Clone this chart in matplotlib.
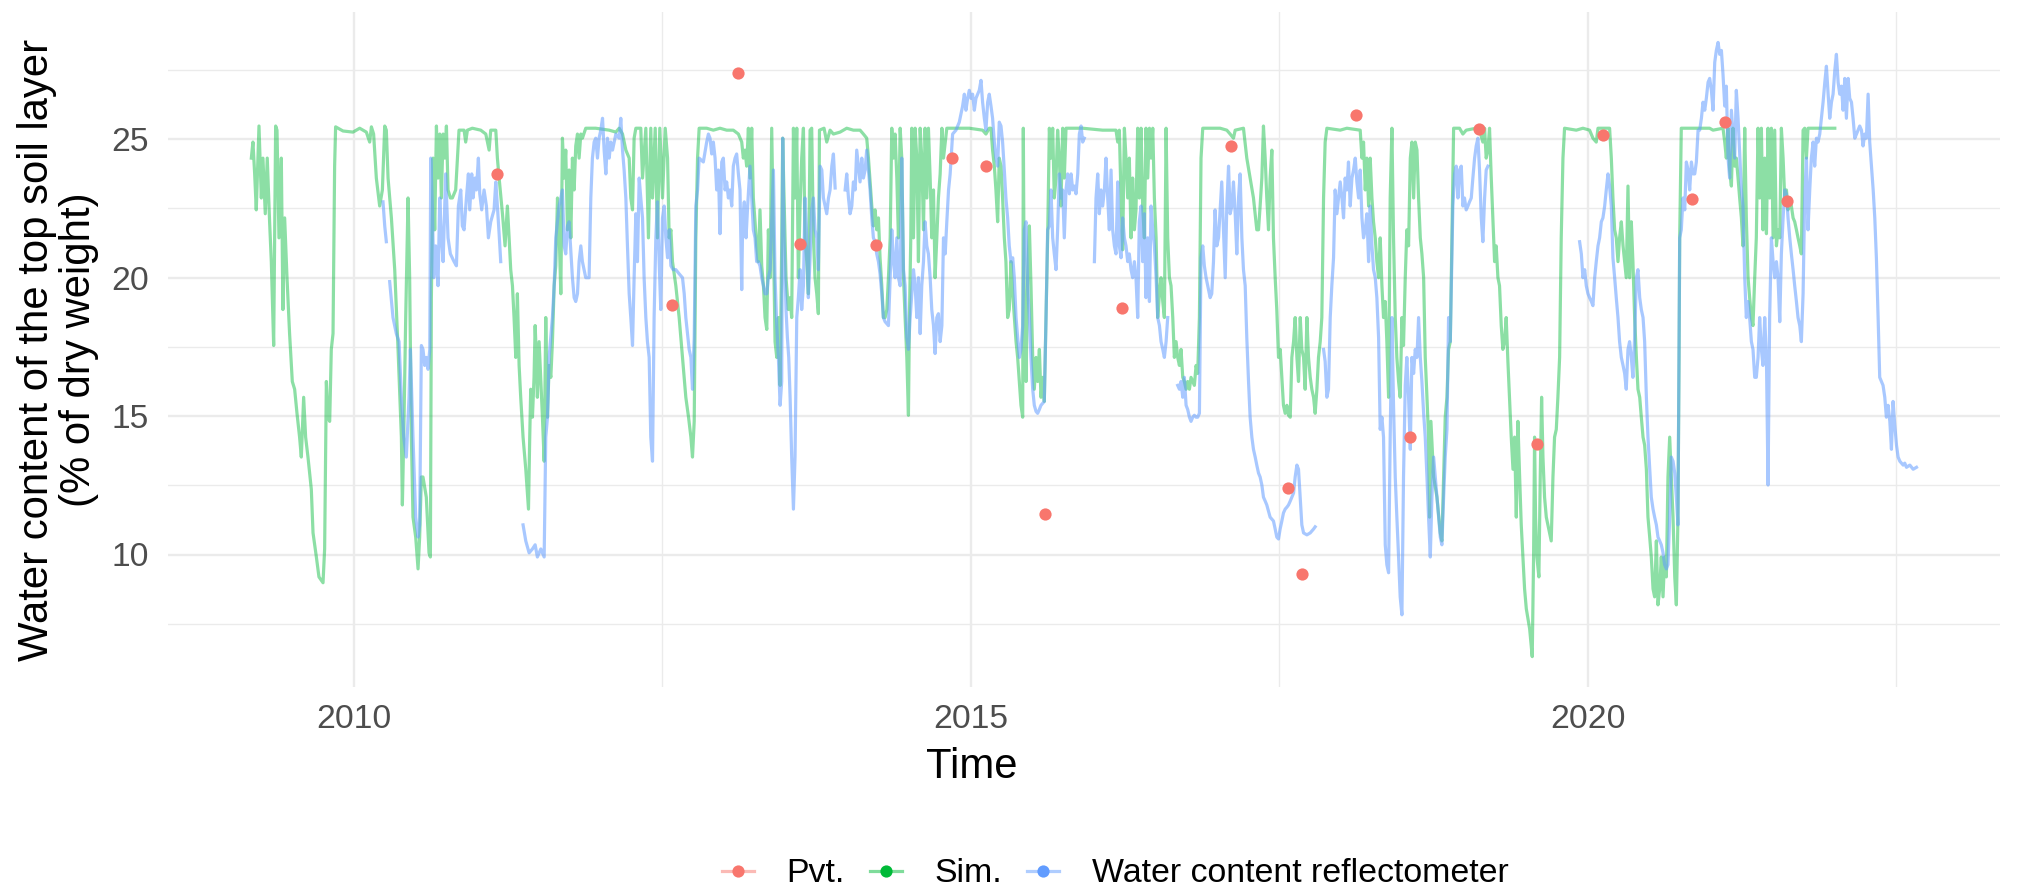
import numpy as np
import matplotlib
matplotlib.use("Agg")
import matplotlib.pyplot as plt
from matplotlib.lines import Line2D

nan = float("nan")

# ---------------- data (decimal year, water content %) ----------------
pvt = [(2011.162, 23.75), (2012.576, 19.02), (2013.109, 27.38), (2013.615, 21.20), (2014.231, 21.17),
       (2014.845, 24.32), (2015.119, 24.03), (2015.600, 11.46), (2016.222, 18.89), (2017.108, 24.76),
       (2017.565, 12.39), (2017.681, 9.29), (2018.119, 25.86), (2018.560, 14.24), (2019.113, 25.39),
       (2019.586, 13.99), (2020.121, 25.14), (2020.843, 22.84), (2021.108, 25.62), (2021.616, 22.77)]

sim = [
(2009.168,24.32),(2009.181,24.90),(2009.195,23.75),(2009.208,22.45),(2009.230,25.48),(2009.249,22.88),(2009.262,24.32),(2009.281,22.31),(2009.297,24.32),(2009.316,22.02),
(2009.330,20.58),(2009.349,17.55),(2009.365,25.48),(2009.376,25.33),(2009.392,21.44),(2009.411,24.32),(2009.424,18.85),(2009.438,22.16),(2009.457,20.00),(2009.478,17.98),
(2009.500,16.25),(2009.519,15.97),(2009.538,15.10),(2009.559,14.24),(2009.573,13.52),(2009.592,15.68),(2009.608,14.24),(2009.627,13.52),(2009.654,12.36),(2009.668,10.78),
(2009.695,9.91),(2009.716,9.19),(2009.749,8.98),(2009.762,10.20),(2009.776,16.25),(2009.789,14.96),(2009.803,14.81),(2009.816,17.41),(2009.830,17.98),(2009.843,24.03),
(2009.851,25.45),(2009.911,25.30),(2009.992,25.26),(2010.046,25.40),(2010.100,25.26),(2010.127,24.90),(2010.141,25.45),(2010.159,25.19),(2010.181,23.60),(2010.208,22.59),
(2010.230,23.17),(2010.249,25.48),(2010.262,25.33),(2010.276,23.60),(2010.303,22.16),(2010.330,20.29),(2010.357,17.41),(2010.384,14.24),(2010.392,11.79),(2010.403,14.24),
(2010.419,18.56),(2010.438,22.88),(2010.451,20.00),(2010.465,14.24),(2010.478,11.35),(2010.500,10.63),(2010.519,9.48),(2010.532,10.63),(2010.546,12.80),(2010.559,12.80),
(2010.586,12.07),(2010.608,10.06),(2010.619,9.91),(2010.627,19.28),(2010.641,24.32),(2010.654,21.73),(2010.668,25.48),(2010.681,23.60),(2010.695,25.19),(2010.708,22.88),
(2010.722,25.19),(2010.735,24.32),(2010.749,25.48),(2010.762,23.17),(2010.781,22.88),(2010.797,22.88),(2010.824,23.17),(2010.851,25.33),(2010.892,25.33),(2010.905,24.90),
(2010.919,25.33),(2010.959,25.40),(2011.027,25.33),(2011.068,25.19),(2011.095,24.61),(2011.108,25.33),(2011.149,25.33),(2011.162,24.32),(2011.176,23.60),(2011.203,22.31),
(2011.224,21.15),(2011.243,22.59),(2011.257,21.44),(2011.270,20.29),(2011.284,19.71),(2011.297,18.56),(2011.311,17.12),(2011.324,19.42),(2011.338,16.83),(2011.351,15.68),
(2011.370,14.24),(2011.392,13.08),(2011.414,11.64),(2011.424,14.24),(2011.432,15.97),(2011.446,14.96),(2011.459,16.40),(2011.468,18.27),(2011.478,17.12),(2011.486,15.68),
(2011.500,17.69),(2011.514,16.25),(2011.527,14.96),(2011.541,13.37),(2011.554,18.56),(2011.568,14.96),(2011.581,16.83),(2011.595,16.40),(2011.608,17.69),(2011.622,19.71),
(2011.635,20.43),(2011.649,22.88),(2011.662,21.73),(2011.676,19.42),(2011.689,25.04),(2011.703,23.60),(2011.716,24.61),(2011.730,21.73),(2011.743,23.89),(2011.757,21.44),
(2011.770,24.32),(2011.784,23.17),(2011.797,24.76),(2011.811,25.19),(2011.824,24.32),(2011.838,25.19),(2011.851,25.04),(2011.878,25.40),(2011.959,25.40),(2012.068,25.33),
(2012.122,25.26),(2012.149,25.40),(2012.176,25.19),(2012.203,24.61),(2012.230,24.32),(2012.243,22.88),(2012.257,22.45),(2012.270,25.04),(2012.284,25.40),(2012.324,25.40),
(2012.338,23.60),(2012.365,25.40),(2012.386,21.44),(2012.405,25.40),(2012.419,22.88),(2012.441,25.40),(2012.459,21.44),(2012.478,25.40),(2012.500,22.88),(2012.522,25.40),
(2012.541,24.32),(2012.554,21.44),(2012.568,21.73),(2012.581,20.58),(2012.608,19.71),(2012.635,18.56),(2012.662,17.12),(2012.689,15.68),(2012.711,14.96),(2012.730,14.24),
(2012.743,13.52),(2012.757,14.81),(2012.770,21.44),(2012.784,24.32),(2012.797,25.40),(2012.858,25.40),(2012.912,25.33),(2012.966,25.40),(2013.020,25.33),(2013.074,25.33),
(2013.115,25.19),(2013.142,24.90),(2013.155,24.32),(2013.169,24.61),(2013.182,24.03),(2013.196,25.40),(2013.209,23.60),(2013.223,25.40),(2013.236,22.88),(2013.250,22.02),
(2013.263,21.15),(2013.277,20.58),(2013.290,22.45),(2013.304,20.43),(2013.318,19.71),(2013.331,18.56),(2013.345,18.13),(2013.358,21.73),(2013.372,20.00),(2013.385,25.40),
(2013.399,21.44),(2013.412,17.69),(2013.426,17.12),(2013.439,18.56),(2013.453,16.11),(2013.466,21.15),(2013.474,25.04),(2013.485,22.88),(2013.501,20.00),(2013.520,18.85),
(2013.534,19.28),(2013.547,18.56),(2013.561,25.40),(2013.574,22.88),(2013.588,25.40),(2013.601,20.00),(2013.615,22.59),(2013.628,24.32),(2013.642,25.40),(2013.655,21.44),
(2013.669,20.58),(2013.682,19.42),(2013.696,25.33),(2013.709,25.40),(2013.723,21.44),(2013.736,20.00),(2013.750,19.42),(2013.763,18.70),(2013.772,25.33),(2013.809,25.40),
(2013.831,24.90),(2013.858,25.33),(2013.885,25.19),(2013.939,25.26),(2013.993,25.40),(2014.047,25.33),(2014.101,25.33),(2014.128,25.19),(2014.155,25.04),(2014.169,24.32),
(2014.182,23.46),(2014.196,22.59),(2014.209,21.87),(2014.223,22.45),(2014.236,21.73),(2014.250,22.16),(2014.263,20.72),(2014.277,19.71),(2014.290,18.56),(2014.304,18.56),
(2014.318,18.85),(2014.331,20.00),(2014.345,21.44),(2014.358,25.40),(2014.372,24.32),(2014.385,25.19),(2014.399,23.60),(2014.412,21.44),(2014.426,25.40),(2014.439,24.32),
(2014.453,20.00),(2014.466,18.56),(2014.480,17.12),(2014.493,15.03),(2014.501,18.56),(2014.512,21.44),(2014.520,25.40),(2014.534,21.44),(2014.547,25.40),(2014.561,24.32),
(2014.574,20.58),(2014.588,25.40),(2014.601,24.32),(2014.615,21.73),(2014.628,25.40),(2014.642,22.88),(2014.655,25.40),(2014.669,23.60),(2014.682,21.44),(2014.696,23.17),
(2014.709,20.00),(2014.723,21.44),(2014.736,22.88),(2014.750,23.75),(2014.764,25.40),(2014.777,24.32),(2014.804,25.40),(2014.878,25.40),(2014.986,25.40),(2015.094,25.33),
(2015.121,25.19),(2015.148,25.40),(2015.162,25.40),(2015.175,24.61),(2015.189,24.03),(2015.202,23.17),(2015.216,22.02),(2015.229,24.32),(2015.243,24.03),(2015.256,22.88),
(2015.270,21.44),(2015.283,20.58),(2015.297,18.56),(2015.310,18.85),(2015.324,20.58),(2015.338,19.42),(2015.351,18.56),(2015.365,17.69),(2015.378,17.12),(2015.392,16.25),
(2015.405,15.39),(2015.419,14.96),(2015.424,25.40),(2015.432,18.56),(2015.446,16.25),(2015.459,20.00),(2015.473,21.87),(2015.486,19.71),(2015.500,17.12),(2015.513,15.97),
(2015.527,17.12),(2015.540,16.25),(2015.554,17.41),(2015.567,15.68),(2015.581,16.40),(2015.594,15.53),(2015.608,18.56),(2015.621,21.44),(2015.635,25.40),(2015.648,24.32),
(2015.662,25.40),(2015.675,22.88),(2015.689,23.60),(2015.702,25.33),(2015.716,24.32),(2015.729,22.59),(2015.743,25.40),(2015.756,23.60),(2015.770,25.40),(2015.905,25.40),
(2016.067,25.33),(2016.175,25.33),(2016.189,24.90),(2016.202,25.33),(2016.216,22.88),(2016.229,21.01),(2016.243,25.40),(2016.256,24.32),(2016.270,22.88),(2016.283,24.32),
(2016.297,21.44),(2016.310,23.60),(2016.324,21.73),(2016.337,22.45),(2016.351,25.40),(2016.364,22.88),(2016.378,25.40),(2016.391,22.59),(2016.405,21.44),(2016.418,25.40),
(2016.432,23.60),(2016.446,25.40),(2016.459,24.32),(2016.473,25.40),(2016.486,22.88),(2016.500,21.44),(2016.513,18.56),(2016.527,19.42),(2016.540,20.00),(2016.554,19.14),
(2016.567,18.56),(2016.581,25.40),(2016.594,21.44),(2016.608,20.00),(2016.621,19.71),(2016.635,18.56),(2016.648,17.12),(2016.662,17.69),(2016.675,17.12),(2016.689,16.83),
(2016.702,17.41),(2016.716,16.40),(2016.729,16.25),(2016.743,15.97),(2016.756,16.25),(2016.770,15.97),(2016.783,16.40),(2016.797,16.25),(2016.810,16.11),(2016.824,16.83),
(2016.837,16.54),(2016.851,18.56),(2016.864,24.32),(2016.878,25.40),(2016.911,25.40),(2017.019,25.40),(2017.073,25.33),(2017.100,25.19),(2017.127,25.04),(2017.141,25.33),
(2017.208,25.40),(2017.235,24.32),(2017.262,23.60),(2017.289,22.88),(2017.316,21.73),(2017.330,21.73),(2017.343,22.59),(2017.357,23.60),(2017.370,25.48),(2017.384,24.32),
(2017.397,22.88),(2017.411,21.73),(2017.424,23.60),(2017.438,24.61),(2017.451,21.44),(2017.465,20.00),(2017.478,18.85),(2017.492,17.12),(2017.506,17.41),(2017.519,16.40),
(2017.532,15.39),(2017.546,15.10),(2017.560,15.39),(2017.573,15.03),(2017.587,14.96),(2017.600,17.12),(2017.614,17.69),(2017.627,18.56),(2017.641,17.12),(2017.654,16.25),
(2017.668,18.56),(2017.681,17.41),(2017.695,17.12),(2017.708,15.97),(2017.722,18.56),(2017.735,17.12),(2017.749,16.40),(2017.762,15.97),(2017.776,15.68),(2017.789,15.10),
(2017.803,15.97),(2017.816,17.12),(2017.830,17.69),(2017.843,18.56),(2017.857,22.88),(2017.870,24.90),(2017.884,25.40),(2017.992,25.33),(2018.046,25.40),(2018.154,25.33),
(2018.168,24.32),(2018.181,24.90),(2018.195,23.17),(2018.208,24.32),(2018.222,22.59),(2018.235,24.32),(2018.249,22.88),(2018.262,22.02),(2018.276,21.44),(2018.289,20.58),
(2018.303,20.00),(2018.316,21.44),(2018.330,19.71),(2018.343,18.56),(2018.357,19.14),(2018.370,17.69),(2018.384,15.68),(2018.397,22.88),(2018.411,25.40),(2018.424,21.44),
(2018.438,18.56),(2018.451,17.12),(2018.465,16.25),(2018.478,15.68),(2018.492,18.56),(2018.505,17.55),(2018.519,20.00),(2018.532,21.73),(2018.546,21.15),(2018.560,24.32),
(2018.573,24.90),(2018.587,22.88),(2018.600,24.90),(2018.614,24.61),(2018.627,22.88),(2018.641,21.44),(2018.654,20.86),(2018.668,20.00),(2018.681,17.12),(2018.695,15.68),
(2018.708,14.24),(2018.716,11.35),(2018.727,14.81),(2018.749,12.80),(2018.776,12.07),(2018.803,10.78),(2018.816,10.49),(2018.830,12.80),(2018.843,14.96),(2018.857,15.68),
(2018.870,17.41),(2018.884,17.69),(2018.897,21.44),(2018.911,25.40),(2018.959,25.40),(2018.986,25.19),(2019.013,25.33),(2019.094,25.40),(2019.121,25.33),(2019.148,24.90),
(2019.162,25.40),(2019.175,24.32),(2019.189,24.61),(2019.202,25.40),(2019.216,23.60),(2019.229,22.16),(2019.243,20.58),(2019.256,21.15),(2019.270,20.00),(2019.283,19.71),
(2019.297,18.27),(2019.310,17.41),(2019.324,17.69),(2019.337,18.56),(2019.351,16.97),(2019.364,15.68),(2019.378,14.24),(2019.392,13.08),(2019.405,14.24),(2019.419,11.35),
(2019.432,14.81),(2019.446,12.80),(2019.459,11.07),(2019.473,9.91),(2019.486,8.76),(2019.500,8.04),(2019.527,7.32),(2019.548,6.31),(2019.559,9.91),(2019.567,14.24),
(2019.575,11.35),(2019.586,9.91),(2019.602,9.19),(2019.613,12.80),(2019.624,15.68),(2019.635,13.52),(2019.648,12.07),(2019.662,11.35),(2019.689,10.78),(2019.702,10.49),
(2019.716,12.80),(2019.729,14.24),(2019.743,14.52),(2019.756,15.68),(2019.770,17.12),(2019.783,21.44),(2019.797,24.32),(2019.810,25.40),(2019.905,25.33),(2019.959,25.40),
(2020.013,25.33),(2020.040,25.04),(2020.067,24.90),(2020.081,25.40),(2020.175,25.40),(2020.189,24.32),(2020.202,22.88),(2020.216,21.73),(2020.229,21.44),(2020.243,20.58),
(2020.256,21.44),(2020.270,22.02),(2020.284,21.15),(2020.297,20.58),(2020.310,20.00),(2020.324,23.31),(2020.337,20.00),(2020.351,22.02),(2020.364,20.58),(2020.378,18.56),
(2020.392,17.12),(2020.405,15.97),(2020.419,15.68),(2020.432,14.96),(2020.446,14.24),(2020.459,13.95),(2020.473,13.08),(2020.486,11.35),(2020.500,10.63),(2020.513,9.91),
(2020.527,8.76),(2020.540,8.47),(2020.554,10.49),(2020.567,8.18),(2020.581,8.76),(2020.594,9.91),(2020.608,8.47),(2020.621,9.91),(2020.635,9.19),(2020.648,12.80),
(2020.662,14.24),(2020.675,12.80),(2020.689,11.35),(2020.703,9.19),(2020.716,8.18),(2020.729,11.35),(2020.738,17.12),(2020.743,21.44),(2020.756,25.40),(2020.986,25.40),
(2021.013,25.33),(2021.094,25.40),(2021.108,24.90),(2021.121,24.32),(2021.135,25.40),(2021.148,23.89),(2021.162,23.31),(2021.175,25.40),(2021.189,24.03),(2021.202,24.32),
(2021.216,23.60),(2021.229,22.88),(2021.243,22.16),(2021.256,21.15),(2021.270,25.40),(2021.283,22.16),(2021.297,20.00),(2021.310,19.28),(2021.324,18.56),(2021.337,18.27),
(2021.351,20.00),(2021.364,21.44),(2021.378,25.40),(2021.391,22.88),(2021.405,25.40),(2021.418,21.73),(2021.432,24.32),(2021.446,21.59),(2021.459,25.40),(2021.472,22.88),
(2021.486,25.40),(2021.500,21.44),(2021.513,25.33),(2021.527,21.15),(2021.540,21.73),(2021.554,21.44),(2021.567,25.40),(2021.581,24.32),(2021.594,22.88),(2021.608,23.17),
(2021.621,22.45),(2021.635,22.88),(2021.648,22.59),(2021.662,22.16),(2021.675,22.02),(2021.689,21.73),(2021.702,21.44),(2021.716,21.15),(2021.729,20.86),(2021.743,25.33),
(2021.756,25.40),(2021.770,24.32),(2021.783,25.40),(2021.878,25.40),(2022.000,25.40)]

wcr = [
(2010.235,22.74),(2010.249,21.87),(2010.262,21.30),(2010.275,nan),
(2010.289,19.86),(2010.316,18.56),(2010.343,17.98),(2010.365,17.69),(2010.384,15.68),(2010.403,14.24),(2010.424,13.52),(2010.446,15.68),(2010.457,17.41),(2010.478,14.24),
(2010.500,11.35),(2010.519,10.63),(2010.532,11.07),(2010.546,17.55),(2010.559,17.41),(2010.573,16.83),(2010.586,17.12),(2010.600,16.69),(2010.614,17.41),(2010.622,24.32),
(2010.635,22.59),(2010.646,20.00),(2010.662,21.15),(2010.681,19.71),(2010.695,22.88),(2010.708,21.44),(2010.722,20.58),(2010.743,23.75),(2010.762,21.44),(2010.781,20.86),
(2010.811,20.58),(2010.830,20.43),(2010.846,22.59),(2010.865,23.17),(2010.878,21.87),(2010.892,21.73),(2010.911,22.88),(2010.927,23.75),(2010.938,22.45),(2010.954,23.75),
(2010.965,22.88),(2010.981,23.60),(2010.992,23.17),(2011.008,24.32),(2011.019,23.03),(2011.035,22.45),(2011.054,23.17),(2011.073,22.59),(2011.089,21.44),(2011.108,22.02),
(2011.135,22.45),(2011.149,23.46),(2011.162,22.59),(2011.176,21.59),(2011.189,20.58),(2011.280,nan),
(2011.370,11.07),(2011.392,10.49),(2011.419,10.06),(2011.446,10.20),(2011.468,10.35),(2011.486,9.91),(2011.514,10.20),(2011.541,9.91),(2011.554,14.24),(2011.568,14.96),
(2011.581,17.12),(2011.608,18.56),(2011.622,19.71),(2011.635,21.44),(2011.662,22.59),(2011.676,22.88),(2011.689,23.17),(2011.703,21.15),(2011.716,20.86),(2011.730,21.87),
(2011.743,22.02),(2011.770,20.00),(2011.784,19.28),(2011.797,19.14),(2011.811,19.42),(2011.824,20.58),(2011.838,21.15),(2011.851,20.58),(2011.878,20.00),(2011.905,20.00),
(2011.919,22.88),(2011.932,24.32),(2011.946,24.90),(2011.959,25.04),(2011.973,24.32),(2011.986,25.04),(2012.000,25.33),(2012.014,25.76),(2012.027,24.61),(2012.041,23.75),
(2012.054,25.04),(2012.068,24.32),(2012.081,24.90),(2012.095,24.61),(2012.122,25.19),(2012.149,25.04),(2012.162,25.76),(2012.176,24.61),(2012.189,23.89),(2012.203,22.88),
(2012.216,21.15),(2012.230,19.42),(2012.243,18.56),(2012.257,17.55),(2012.270,20.00),(2012.284,22.31),(2012.297,20.58),(2012.311,23.60),(2012.324,22.88),(2012.338,22.16),
(2012.351,20.00),(2012.365,18.56),(2012.378,17.69),(2012.392,17.12),(2012.405,14.24),(2012.419,13.37),(2012.432,18.56),(2012.446,21.44),(2012.459,22.74),(2012.473,20.58),
(2012.486,18.85),(2012.500,22.16),(2012.514,22.59),(2012.527,21.44),(2012.541,20.72),(2012.554,21.73),(2012.568,20.43),(2012.586,20.29),(2012.608,20.29),(2012.635,20.14),
(2012.662,20.00),(2012.676,19.42),(2012.689,18.56),(2012.703,17.98),(2012.716,17.41),(2012.730,17.12),(2012.743,15.97),(2012.757,17.84),(2012.770,22.59),(2012.784,23.17),
(2012.797,24.32),(2012.831,24.18),(2012.858,24.90),(2012.872,25.19),(2012.885,25.04),(2012.899,24.47),(2012.912,24.90),(2012.926,24.32),(2012.939,23.17),(2012.953,23.89),
(2012.966,21.59),(2012.980,24.18),(2012.993,24.32),(2013.007,23.17),(2013.020,23.46),(2013.034,22.88),(2013.047,23.17),(2013.061,22.59),(2013.074,24.03),(2013.088,24.32),
(2013.101,24.47),(2013.115,23.75),(2013.128,23.17),(2013.142,19.57),(2013.150,22.16),(2013.163,22.74),(2013.177,21.44),(2013.190,22.59),(2013.209,24.03),(2013.223,22.88),
(2013.236,21.73),(2013.250,21.44),(2013.263,20.58),(2013.277,20.58),(2013.290,20.43),(2013.304,20.00),(2013.318,19.71),(2013.331,19.42),(2013.345,19.42),(2013.358,20.00),
(2013.372,20.29),(2013.385,22.02),(2013.399,23.89),(2013.412,20.00),(2013.426,18.27),(2013.439,17.12),(2013.453,15.39),(2013.466,16.25),(2013.474,25.04),(2013.485,21.44),
(2013.501,18.85),(2013.512,17.84),(2013.523,17.12),(2013.534,15.68),(2013.547,13.52),(2013.561,11.64),(2013.574,13.52),(2013.588,18.56),(2013.601,19.28),(2013.615,20.29),
(2013.628,18.85),(2013.642,19.71),(2013.655,22.88),(2013.669,21.44),(2013.682,19.28),(2013.696,20.72),(2013.709,22.45),(2013.723,22.88),(2013.736,21.73),(2013.750,21.44),
(2013.763,20.29),(2013.777,24.03),(2013.791,23.89),(2013.804,22.88),(2013.818,22.59),(2013.831,22.31),(2013.845,22.88),(2013.858,23.17),(2013.872,24.03),(2013.885,24.47),
(2013.899,23.24),(2013.940,nan),
(2013.980,23.17),(2013.993,23.75),(2014.007,22.88),(2014.020,22.31),(2014.034,22.59),(2014.047,23.46),(2014.061,23.17),(2014.074,24.61),(2014.088,24.03),(2014.101,23.46),
(2014.115,24.32),(2014.128,23.60),(2014.142,23.89),(2014.155,24.61),(2014.169,23.89),(2014.182,23.17),(2014.196,22.16),(2014.209,21.44),(2014.223,21.30),(2014.236,20.86),
(2014.250,20.58),(2014.263,20.14),(2014.277,19.42),(2014.290,18.56),(2014.304,18.41),(2014.318,18.34),(2014.331,18.27),(2014.345,20.00),(2014.358,21.73),(2014.372,20.58),
(2014.385,20.00),(2014.399,21.44),(2014.412,20.00),(2014.426,19.71),(2014.439,24.32),(2014.453,20.29),(2014.466,19.71),(2014.480,17.84),(2014.493,17.41),(2014.507,18.56),
(2014.520,19.42),(2014.534,20.29),(2014.547,19.71),(2014.561,18.56),(2014.574,20.00),(2014.588,17.98),(2014.601,19.71),(2014.615,20.58),(2014.628,22.02),(2014.642,21.15),
(2014.655,20.86),(2014.669,20.00),(2014.682,18.85),(2014.696,18.27),(2014.709,17.26),(2014.723,18.56),(2014.736,18.70),(2014.750,17.69),(2014.764,18.27),(2014.777,21.44),
(2014.791,20.86),(2014.804,22.02),(2014.818,23.17),(2014.831,23.75),(2014.851,25.19),(2014.878,25.33),(2014.905,25.62),(2014.932,26.20),(2014.946,26.63),(2014.959,26.05),
(2014.973,26.48),(2014.986,26.77),(2015.000,26.48),(2015.013,26.63),(2015.027,26.05),(2015.040,26.48),(2015.054,26.63),(2015.067,26.77),(2015.081,27.13),(2015.094,26.34),
(2015.108,25.76),(2015.121,25.33),(2015.135,26.34),(2015.148,26.63),(2015.162,26.20),(2015.175,25.76),(2015.189,24.90),(2015.202,24.32),(2015.216,24.03),(2015.229,25.62),
(2015.243,25.48),(2015.256,24.90),(2015.270,23.89),(2015.283,22.88),(2015.297,22.16),(2015.310,21.15),(2015.324,20.58),(2015.338,20.72),(2015.351,20.00),(2015.365,18.56),
(2015.378,17.84),(2015.392,17.12),(2015.405,17.41),(2015.419,18.27),(2015.432,21.73),(2015.446,22.02),(2015.459,19.71),(2015.473,18.56),(2015.486,17.12),(2015.500,15.97),
(2015.513,15.39),(2015.527,15.17),(2015.540,15.10),(2015.554,15.24),(2015.567,15.39),(2015.581,15.46),(2015.594,15.53),(2015.608,18.56),(2015.621,21.73),(2015.635,21.87),
(2015.648,23.17),(2015.662,21.44),(2015.675,20.86),(2015.689,20.29),(2015.702,21.73),(2015.716,23.75),(2015.729,22.88),(2015.743,23.17),(2015.756,21.44),(2015.770,23.17),
(2015.783,23.75),(2015.797,23.03),(2015.811,23.75),(2015.824,23.17),(2015.838,23.31),(2015.851,23.03),(2015.865,23.75),(2015.878,25.19),(2015.892,25.48),(2015.905,24.90),
(2015.918,25.04),(2015.960,nan),
(2016.000,20.58),(2016.013,22.88),(2016.027,23.75),(2016.040,22.31),(2016.054,23.17),(2016.067,22.59),(2016.081,23.17),(2016.094,24.32),(2016.108,22.88),(2016.121,21.73),
(2016.135,23.89),(2016.148,21.73),(2016.162,21.15),(2016.175,20.86),(2016.189,23.46),(2016.202,21.15),(2016.216,20.72),(2016.229,22.16),(2016.243,21.44),(2016.256,21.15),
(2016.270,20.58),(2016.283,20.86),(2016.297,20.29),(2016.310,20.00),(2016.324,20.58),(2016.337,20.00),(2016.351,18.56),(2016.364,22.02),(2016.378,22.59),(2016.391,20.58),
(2016.405,22.31),(2016.418,19.28),(2016.432,21.44),(2016.446,19.14),(2016.459,22.59),(2016.473,21.73),(2016.486,21.15),(2016.500,20.00),(2016.513,18.56),(2016.527,18.27),
(2016.540,17.69),(2016.554,17.41),(2016.567,17.12),(2016.581,17.69),(2016.594,18.56),(2016.635,nan),
(2016.675,16.11),(2016.689,15.97),(2016.702,16.25),(2016.716,15.68),(2016.729,16.40),(2016.743,15.39),(2016.756,15.24),(2016.770,14.96),(2016.783,14.81),(2016.797,14.96),
(2016.810,15.03),(2016.824,14.96),(2016.837,14.96),(2016.851,15.10),(2016.864,20.72),(2016.878,21.15),(2016.891,20.43),(2016.905,20.00),(2016.932,19.42),(2016.938,19.28),
(2016.951,19.42),(2016.965,20.58),(2016.978,22.45),(2016.992,21.15),(2017.006,21.44),(2017.019,22.45),(2017.032,23.46),(2017.046,21.73),(2017.060,20.00),(2017.073,22.59),
(2017.087,24.03),(2017.100,22.31),(2017.114,22.59),(2017.127,23.46),(2017.141,22.31),(2017.154,20.86),(2017.168,22.88),(2017.181,23.75),(2017.195,21.44),(2017.208,20.29),
(2017.222,19.71),(2017.235,17.84),(2017.249,16.25),(2017.262,14.96),(2017.276,14.24),(2017.289,13.80),(2017.303,13.52),(2017.316,13.23),(2017.330,12.94),(2017.343,12.80),
(2017.357,12.51),(2017.370,12.07),(2017.384,11.93),(2017.397,11.79),(2017.424,11.35),(2017.451,11.21),(2017.465,10.92),(2017.478,10.63),(2017.492,10.56),(2017.505,10.92),
(2017.519,11.21),(2017.532,11.50),(2017.546,11.64),(2017.560,11.71),(2017.573,11.79),(2017.587,11.93),(2017.600,12.07),(2017.614,12.22),(2017.627,12.80),(2017.641,13.23),
(2017.654,13.08),(2017.668,12.07),(2017.681,11.07),(2017.695,10.78),(2017.722,10.71),(2017.749,10.78),(2017.776,10.92),(2017.789,11.00),(2017.820,nan),
(2017.857,17.41),(2017.870,16.97),(2017.884,15.68),(2017.897,15.97),(2017.911,18.56),(2017.924,19.71),(2017.938,20.72),(2017.951,23.17),(2017.965,22.31),(2017.978,22.88),
(2017.992,23.46),(2018.006,22.88),(2018.019,22.16),(2018.032,23.60),(2018.046,23.17),(2018.059,24.18),(2018.073,22.59),(2018.087,23.60),(2018.100,23.89),(2018.114,24.32),
(2018.127,23.46),(2018.141,22.88),(2018.154,23.89),(2018.168,22.16),(2018.181,21.44),(2018.195,21.73),(2018.208,22.31),(2018.222,20.58),(2018.235,22.59),(2018.249,21.15),
(2018.262,20.29),(2018.276,20.00),(2018.289,19.28),(2018.303,17.84),(2018.316,14.52),(2018.330,14.96),(2018.343,14.24),(2018.357,10.35),(2018.370,9.63),(2018.384,9.34),
(2018.397,14.24),(2018.411,18.56),(2018.424,15.39),(2018.438,12.80),(2018.451,11.35),(2018.465,9.91),(2018.478,8.47),(2018.492,7.82),(2018.505,12.80),(2018.519,16.11),
(2018.532,17.12),(2018.546,15.68),(2018.560,13.80),(2018.573,17.12),(2018.587,16.54),(2018.600,17.41),(2018.614,17.12),(2018.627,18.56),(2018.641,17.12),(2018.654,16.25),
(2018.668,15.10),(2018.681,14.24),(2018.695,12.80),(2018.708,11.35),(2018.722,9.91),(2018.735,12.07),(2018.749,13.52),(2018.762,12.80),(2018.776,12.07),(2018.803,10.63),
(2018.816,10.35),(2018.830,12.07),(2018.843,13.52),(2018.857,14.52),(2018.870,18.56),(2018.884,17.69),(2018.905,22.59),(2018.919,23.75),(2018.932,24.03),(2018.946,22.88),
(2018.959,23.89),(2018.973,24.03),(2018.986,22.59),(2018.999,22.88),(2019.013,22.45),(2019.027,22.59),(2019.040,22.74),(2019.054,22.88),(2019.067,23.60),(2019.081,24.32),
(2019.094,24.76),(2019.108,25.04),(2019.121,23.89),(2019.135,22.16),(2019.148,21.30),(2019.162,22.88),(2019.175,23.89),(2019.189,24.03),(2019.500,nan),
(2019.932,21.30),(2019.946,20.86),(2019.959,20.00),(2019.973,20.29),(2019.986,19.71),(2020.000,19.42),(2020.013,19.28),(2020.027,19.14),(2020.040,18.99),(2020.054,20.00),
(2020.067,20.58),(2020.081,21.15),(2020.094,21.44),(2020.108,22.02),(2020.121,22.16),(2020.135,22.59),(2020.148,23.17),(2020.162,23.75),(2020.175,23.31),(2020.189,22.59),
(2020.202,20.72),(2020.216,20.00),(2020.229,19.28),(2020.243,18.56),(2020.256,17.69),(2020.270,17.12),(2020.284,16.83),(2020.297,16.54),(2020.310,15.97),(2020.324,17.41),
(2020.337,17.69),(2020.351,17.12),(2020.364,16.40),(2020.378,17.84),(2020.392,20.00),(2020.405,20.29),(2020.419,19.28),(2020.432,18.85),(2020.446,18.56),(2020.459,17.69),
(2020.473,15.68),(2020.486,14.24),(2020.500,13.08),(2020.513,12.07),(2020.527,11.64),(2020.540,11.35),(2020.554,11.07),(2020.567,10.63),(2020.581,10.49),(2020.594,10.35),
(2020.608,10.06),(2020.621,9.63),(2020.635,9.48),(2020.648,9.63),(2020.662,11.35),(2020.675,13.52),(2020.689,13.37),(2020.703,12.94),(2020.716,12.07),(2020.729,11.07),
(2020.743,21.44),(2020.756,21.73),(2020.770,22.88),(2020.784,22.45),(2020.797,24.18),(2020.811,23.89),(2020.824,23.17),(2020.838,24.18),(2020.851,23.75),(2020.865,23.75),
(2020.878,24.18),(2020.892,25.33),(2020.905,25.33),(2020.919,25.76),(2020.932,26.34),(2020.946,26.05),(2020.959,26.48),(2020.973,27.06),(2020.986,27.20),(2021.000,26.77),
(2021.013,26.05),(2021.027,27.78),(2021.040,28.21),(2021.054,28.50),(2021.067,28.07),(2021.081,28.21),(2021.094,27.35),(2021.108,26.20),(2021.121,26.92),(2021.135,24.32),
(2021.148,23.60),(2021.162,26.05),(2021.175,25.19),(2021.189,24.32),(2021.202,26.77),(2021.216,25.76),(2021.229,24.47),(2021.243,23.17),(2021.256,22.59),(2021.270,20.00),
(2021.283,18.56),(2021.297,19.14),(2021.310,18.56),(2021.324,17.69),(2021.337,17.41),(2021.351,16.40),(2021.364,16.40),(2021.378,17.12),(2021.391,18.56),(2021.405,17.41),
(2021.418,16.83),(2021.432,18.56),(2021.446,17.12),(2021.459,12.51),(2021.472,18.56),(2021.486,21.44),(2021.500,20.58),(2021.513,20.00),(2021.527,20.58),(2021.540,20.00),
(2021.554,18.41),(2021.567,20.86),(2021.581,22.16),(2021.594,23.17),(2021.608,23.03),(2021.621,22.16),(2021.635,21.44),(2021.648,20.86),(2021.662,20.29),(2021.675,19.71),
(2021.689,19.14),(2021.702,18.56),(2021.716,18.27),(2021.729,17.69),(2021.743,19.42),(2021.756,22.88),(2021.770,24.32),(2021.783,21.73),(2021.797,23.17),(2021.810,24.32),
(2021.824,24.90),(2021.837,24.03),(2021.851,25.04),(2021.864,24.90),(2021.878,25.19),(2021.891,25.76),(2021.905,26.34),(2021.919,27.06),(2021.932,27.64),(2021.946,26.63),
(2021.959,25.76),(2021.973,26.34),(2021.986,26.63),(2022.000,27.49),(2022.013,28.07),(2022.027,27.06),(2022.040,26.63),(2022.054,26.92),(2022.067,26.05),(2022.081,27.20),
(2022.094,25.76),(2022.108,27.20),(2022.121,26.48),(2022.135,26.34),(2022.148,25.76),(2022.162,25.04),(2022.176,25.19),(2022.202,25.48),(2022.216,25.33),(2022.229,24.76),
(2022.243,25.19),(2022.256,25.04),(2022.270,26.63),(2022.283,24.90),(2022.297,24.03),(2022.311,23.17),(2022.324,22.16),(2022.337,20.72),(2022.351,18.56),(2022.364,16.40),
(2022.378,16.25),(2022.391,16.11),(2022.405,15.68),(2022.418,14.96),(2022.432,15.39),(2022.446,14.81),(2022.459,13.80),(2022.472,15.53),(2022.486,14.67),(2022.500,13.95),
(2022.513,13.52),(2022.527,13.37),(2022.554,13.23),(2022.567,13.30),(2022.581,13.15),(2022.608,13.23),(2022.635,13.08),(2022.662,13.15)]

series_labels = ["Pvt.", "Sim.", "Water content reflectometer"]
series_colors = ["#F8766D", "#00BA38", "#619CFF"]
x_ticks = [2010, 2015, 2020]
x_minor = [2012.5, 2017.5, 2022.5]
y_ticks = [10, 15, 20, 25]
y_minor = [7.5, 12.5, 17.5, 22.5, 27.5]
x_title = "Time"
y_title = "Water content of the top soil layer\n(% of dry weight)"

# ---------------- figure ----------------
plt.rcParams["font.family"] = ["Liberation Sans", "DejaVu Sans"]
W, H = 2041, 893
fig = plt.figure(figsize=(W / 100, H / 100), dpi=100)

pt, pv = map(list, zip(*pvt))
st, sv = map(list, zip(*sim))
wt, wv = map(list, zip(*wcr))

all_t = pt + st + wt
all_v = [v for v in pv + sv + wv if v == v]
tmin, tmax = min(all_t), max(t for t, v in wcr if v == v)
vmin, vmax = min(all_v), max(all_v)
x0, x1 = tmin - 0.05 * (tmax - tmin), tmax + 0.05 * (tmax - tmin)
y0, y1 = vmin - 0.05 * (vmax - vmin), vmax + 0.05 * (vmax - vmin)

# panel placement (pixels)
PX_PER_YEAR = 123.4
PX_PER_UNIT = 27.68
L = 354 + (x0 - 2010) * PX_PER_YEAR
R = 354 + (x1 - 2010) * PX_PER_YEAR
T = 139.3 - (y1 - 25) * PX_PER_UNIT
B = 139.3 + (25 - y0) * PX_PER_UNIT
ax = fig.add_axes([L / W, 1 - B / H, (R - L) / W, (B - T) / H])
ax.set_xlim(x0, x1)
ax.set_ylim(y0, y1)

ax.set_xticks(x_ticks)
ax.set_xticklabels([str(t) for t in x_ticks])
ax.set_xticks(x_minor, minor=True)
ax.set_yticks(y_ticks)
ax.set_yticklabels([str(t) for t in y_ticks])
ax.set_yticks(y_minor, minor=True)
ax.grid(which="major", color="#EBEBEB", lw=1.7)
ax.grid(which="minor", color="#EBEBEB", lw=1.0)
ax.set_axisbelow(True)
ax.tick_params(which="both", length=0, labelsize=24.2, labelcolor="#4D4D4D")
ax.tick_params(axis="x", pad=12)
ax.tick_params(axis="y", pad=14)
for s in ax.spines.values():
    s.set_visible(False)

ax.plot(st, sv, color=series_colors[1], alpha=0.45, lw=2.3, solid_joinstyle="round")
ax.plot(wt, wv, color=series_colors[2], alpha=0.55, lw=2.3, solid_joinstyle="round")
ax.plot(pt, pv, "o", color=series_colors[0], ms=8.8, mew=0)

fig.text(58 / W, 1 - (T + B) / 2 / H, y_title, rotation=90, ha="center", va="center",
         fontsize=30.2, linespacing=1.05, multialignment="center")
fig.text(972 / W, 1 - 767 / H, x_title, ha="center", va="center", fontsize=30.2)

handles = []
for c in series_colors:
    rgba = matplotlib.colors.to_rgba(c, 0.5)
    handles.append(Line2D([0], [0], color=rgba, lw=2.3, marker="o", ms=8.8,
                          markerfacecolor=c, markeredgecolor=c, mew=0))
fig.legend(handles, series_labels, loc="center", bbox_to_anchor=(1115 / W, 1 - 874 / H),
           ncol=3, frameon=False, fontsize=24.4, handlelength=0.95, handletextpad=0.95,
           columnspacing=0.75, borderpad=0, borderaxespad=0)

fig.savefig("out.png", dpi=100, facecolor="white")
